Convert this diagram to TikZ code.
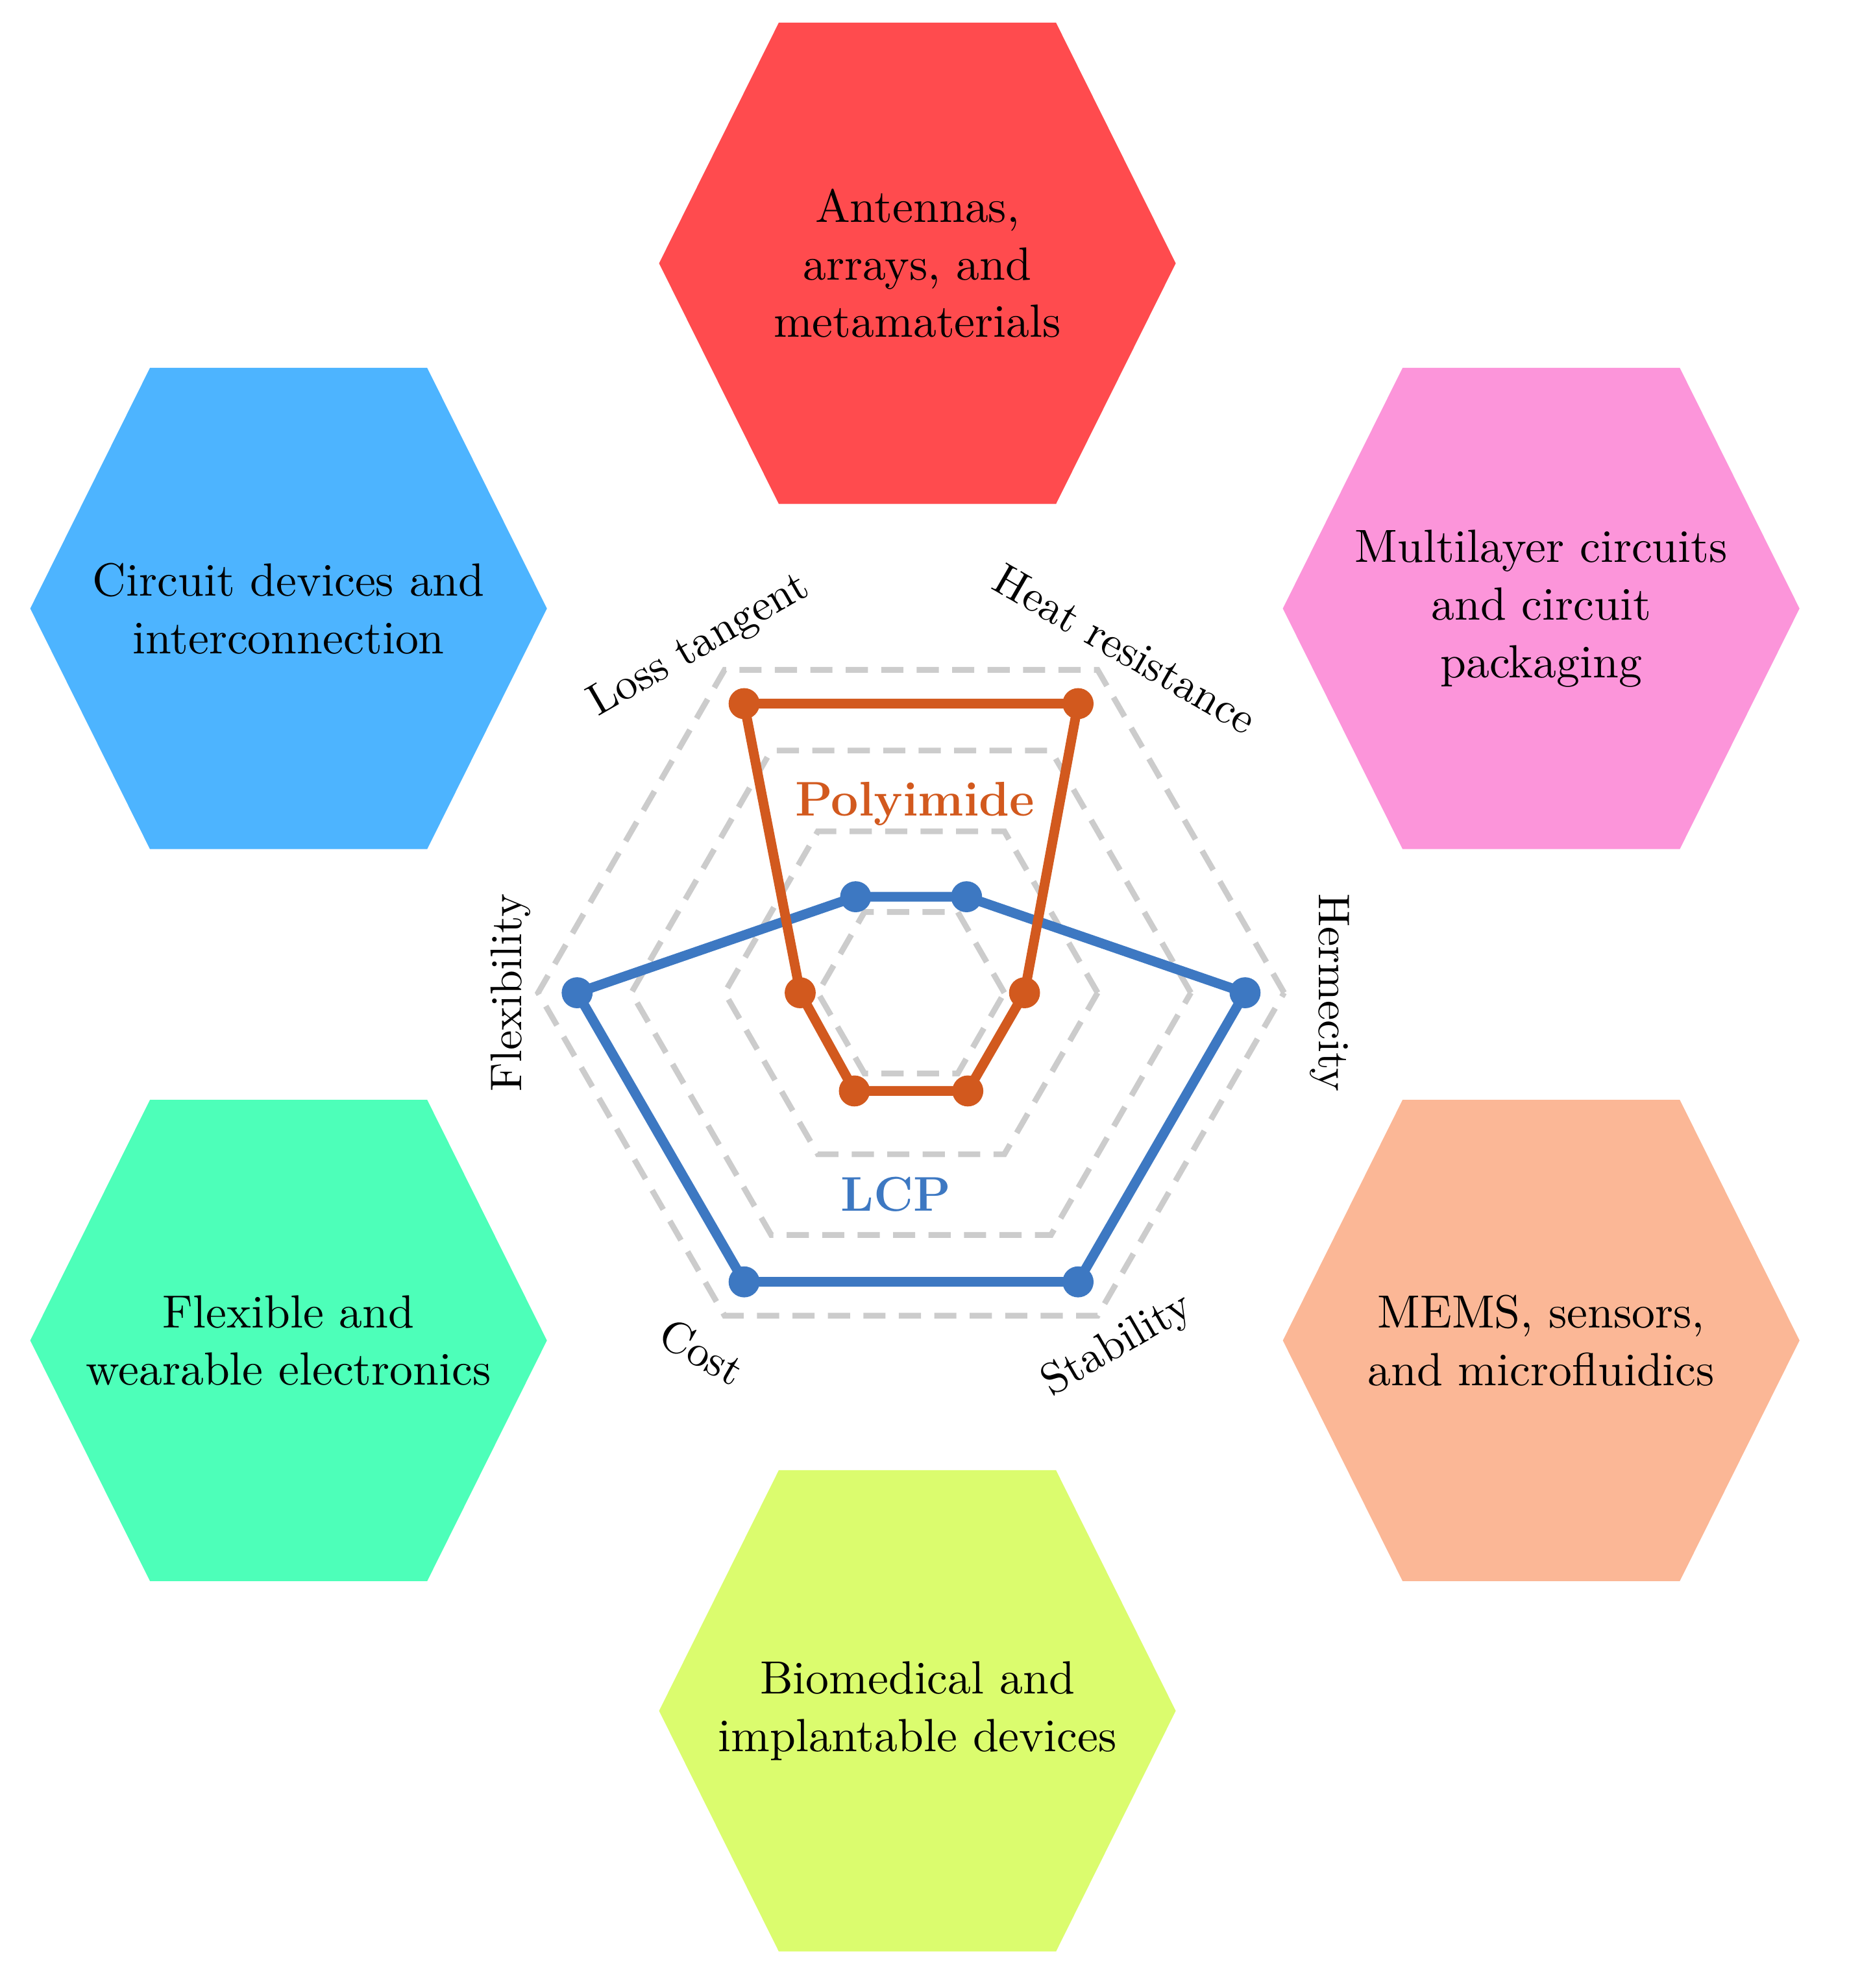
\documentclass[tikz,border=0pt]{standalone}
\usepackage{amsmath}
\usetikzlibrary{positioning,calc}
\definecolor{hexred}{HTML}{FF4B4E}
\definecolor{hexblue}{HTML}{4DB4FF}
\definecolor{hexpink}{HTML}{FC95DA}
\definecolor{hexgreen}{HTML}{4DFFB9}
\definecolor{hexorange}{HTML}{FBB796}
\definecolor{hexyellow}{HTML}{DBFC6E}
\definecolor{pilinecol}{HTML}{D2591E}
\definecolor{lcplinecol}{HTML}{3D78C2}
\newcommand{\apphex}[3]{%
  \fill [#3] ($(#1)+(-205,0)$) -- ($(#1)+(-110,-191)$) -- ($(#1)+(110,-191)$)
    -- ($(#1)+(205,0)$) -- ($(#1)+(110,191)$) -- ($(#1)+(-110,191)$) -- cycle;
  \node [apptext] at (#1) {#2};}
\begin{document}
\begin{tikzpicture}[x=0.01cm,y=-0.01cm,
  apptext/.style={align=center,font=\fontsize{10.5}{13}\selectfont},
  axistext/.style={font=\fontsize{10}{12}\selectfont},
  ring/.style={gray!40,line width=1.3pt,dash pattern=on 5pt off 3pt},
  series/.style={line width=2.2pt,line join=round},
  dot/.style={circle,fill,inner sep=0pt,minimum size=7pt}]
\useasboundingbox (0,0) rectangle (1467,1578);
% application hexagons
\coordinate (ant) at (728,209);
\coordinate (cir) at (229,483);
\coordinate (mul) at (1223,483);
\coordinate (fle) at (229,1064);
\coordinate (mem) at (1223,1064);
\coordinate (bio) at (728,1358);
\apphex{ant}{Antennas,\\arrays, and\\metamaterials}{hexred}
\apphex{cir}{Circuit devices and\\interconnection}{hexblue}
\apphex{mul}{Multilayer circuits\\and circuit\\packaging}{hexpink}
\apphex{fle}{Flexible and\\wearable electronics}{hexgreen}
\apphex{mem}{MEMS, sensors,\\and microfluidics}{hexorange}
\apphex{bio}{Biomedical and\\implantable devices}{hexyellow}
% radar rings
\foreach \k in {1,...,4} {
  \foreach \a [count=\i] in {0,60,...,300}
    \coordinate (r\k-\i) at ({723+74*\k*cos(\a)},{788-74*\k*sin(\a)});
  \draw [ring] (r\k-1) -- (r\k-2) -- (r\k-3) -- (r\k-4) -- (r\k-5) -- (r\k-6) -- cycle;
}
% data points: LT, HR, H, S, C, F
\foreach \n/\a/\p/\l in {1/120/265/88, 2/60/265/88, 3/0/90/265, 4/-60/90/265, 5/-120/90/265, 6/180/88/265} {
  \coordinate (pi\n) at ({723+\p*cos(\a)},{788-\p*sin(\a)});
  \coordinate (lcp\n) at ({723+\l*cos(\a)},{788-\l*sin(\a)});
}
\draw [series,lcplinecol] (lcp1) -- (lcp2) -- (lcp3) -- (lcp4) -- (lcp5) -- (lcp6) -- cycle;
\draw [series,pilinecol] (pi1) -- (pi2) -- (pi3) -- (pi4) -- (pi5) -- (pi6) -- cycle;
\foreach \n in {1,...,6} {
  \node [dot,lcplinecol] at (lcp\n) {};
  \node [dot,pilinecol] at (pi\n) {};
}
\node [font=\fontsize{11}{13}\selectfont\bfseries,pilinecol] (pilabel) at (726,638) {Polyimide};
\node [font=\fontsize{11}{13}\selectfont\bfseries,lcplinecol] (lcplabel) at (711,948) {LCP};
% axis labels
\node [axistext,rotate=30] (lt) at (555,513) {Loss tangent};
\node [axistext,rotate=-30] (hr) at (893,515) {Heat resistance};
\node [axistext,rotate=-90] (he) at (1055,788) {Hermecity};
\node [axistext,rotate=30] (st) at (887,1068) {Stability};
\node [axistext,rotate=-30] (co) at (557,1073) {Cost};
\node [axistext,rotate=90] (fl) at (405,788) {Flexibility};
\end{tikzpicture}
\end{document}
